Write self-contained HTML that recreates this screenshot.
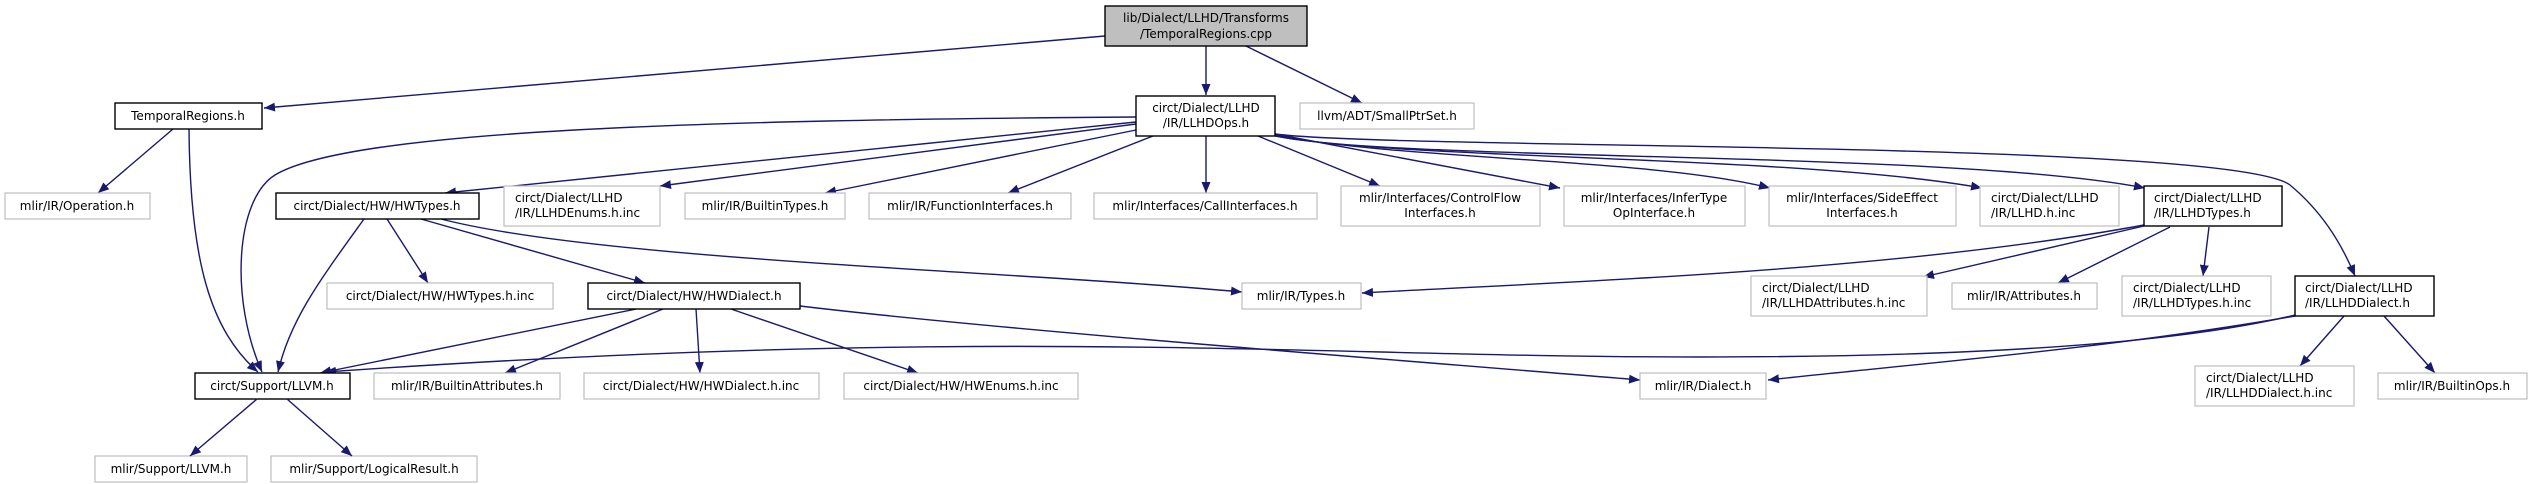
<!DOCTYPE html>
<html><head><meta charset="utf-8"><style>
html,body{margin:0;padding:0;background:#fff;}
svg{display:block;}
text{font-family:"DejaVu Sans","Liberation Sans",sans-serif;font-size:12px;fill:#000;}
.e{fill:none;stroke:#191970;stroke-width:1.4;marker-end:url(#a);}
.g{fill:#fff;stroke:#bfbfbf;stroke-width:1.2;}
.b{fill:#fff;stroke:#000;stroke-width:1.4;}
</style></head><body>
<svg width="2532" height="484" viewBox="0 0 2532 484" xmlns="http://www.w3.org/2000/svg">
<defs><marker id="a" markerUnits="userSpaceOnUse" markerWidth="12" markerHeight="10" refX="11" refY="4.5" orient="auto"><path d="M0,0 L11,4.5 L0,9 z" fill="#191970"/></marker></defs>

<!-- edges -->
<path class="e" d="M1105,36 L264,108"/>
<path class="e" d="M1206,46 L1206,95"/>
<path class="e" d="M1246,46 L1362,103"/>
<path class="e" d="M173,129 L98,193"/>
<path class="e" d="M189,129 C190,260 210,330 258,372"/>
<path class="e" d="M1136,117 C700,120 350,130 275,175 C235,200 230,300 262,372"/>
<path class="e" d="M1136,122 L445,193"/>
<path class="e" d="M1136,124 L660,186"/>
<path class="e" d="M1136,130 L825,193"/>
<path class="e" d="M1153,136 L1008,193"/>
<path class="e" d="M1206,136 L1206,193"/>
<path class="e" d="M1258,136 L1380,186"/>
<path class="e" d="M1275,134 L1560,188"/>
<path class="e" d="M1275,135 C1400,160 1650,158 1770,188"/>
<path class="e" d="M1275,136 C1400,160 1800,155 1982,188"/>
<path class="e" d="M1275,136 C1400,162 1950,150 2145,188"/>
<path class="e" d="M1275,134 C1400,150 2230,140 2290,185 C2320,210 2340,240 2355,276"/>
<path class="e" d="M364,219 C320,280 290,320 278,372"/>
<path class="e" d="M387,219 L428,283"/>
<path class="e" d="M421,219 L645,283"/>
<path class="e" d="M441,219 C600,260 1000,270 1242,292"/>
<path class="e" d="M636,309 L320,373"/>
<path class="e" d="M663,309 L505,373"/>
<path class="e" d="M696,309 L700,373"/>
<path class="e" d="M731,309 L918,373"/>
<path class="e" d="M800,306 C1000,330 1400,360 1640,380"/>
<path class="e" d="M2144,225 C1900,270 1600,280 1362,293"/>
<path class="e" d="M2144,226 L1923,277"/>
<path class="e" d="M2170,227 L2058,283"/>
<path class="e" d="M2209,227 L2203,276"/>
<path class="e" d="M2295,315 C2150,350 1900,357 1700,357 C1300,357 1000,325 325,372"/>
<path class="e" d="M2295,316 C2100,350 1900,365 1768,380"/>
<path class="e" d="M2344,316 L2300,366"/>
<path class="e" d="M2384,316 L2435,373"/>

<!-- nodes -->
<rect x="1105" y="6" width="202" height="40" fill="#bfbfbf" stroke="#000" stroke-width="1.4"/>
<text x="1206" y="22" text-anchor="middle">lib/Dialect/LLHD/Transforms</text>
<text x="1206" y="38" text-anchor="middle">/TemporalRegions.cpp</text>

<rect class="b" x="115" y="103" width="147" height="26"/>
<text x="188" y="120" text-anchor="middle">TemporalRegions.h</text>

<rect class="b" x="1136" y="96" width="139" height="40"/>
<text x="1206" y="112" text-anchor="middle">circt/Dialect/LLHD</text>
<text x="1206" y="127" text-anchor="middle">/IR/LLHDOps.h</text>

<rect class="g" x="1300" y="103" width="174" height="26"/>
<text x="1387" y="120" text-anchor="middle">llvm/ADT/SmallPtrSet.h</text>

<rect class="g" x="5" y="193" width="145" height="26"/>
<text x="77" y="210" text-anchor="middle">mlir/IR/Operation.h</text>

<rect class="b" x="276" y="193" width="203" height="26"/>
<text x="377" y="210" text-anchor="middle">circt/Dialect/HW/HWTypes.h</text>

<rect class="g" x="504" y="186" width="156" height="40"/>
<text x="515" y="202">circt/Dialect/LLHD</text>
<text x="515" y="217">/IR/LLHDEnums.h.inc</text>

<rect class="g" x="685" y="193" width="160" height="26"/>
<text x="765" y="210" text-anchor="middle">mlir/IR/BuiltinTypes.h</text>

<rect class="g" x="869" y="193" width="202" height="26"/>
<text x="970" y="210" text-anchor="middle">mlir/IR/FunctionInterfaces.h</text>

<rect class="g" x="1094" y="193" width="223" height="26"/>
<text x="1205" y="210" text-anchor="middle">mlir/Interfaces/CallInterfaces.h</text>

<rect class="g" x="1341" y="186" width="199" height="40"/>
<text x="1440" y="202" text-anchor="middle">mlir/Interfaces/ControlFlow</text>
<text x="1440" y="217" text-anchor="middle">Interfaces.h</text>

<rect class="g" x="1564" y="186" width="181" height="40"/>
<text x="1654" y="202" text-anchor="middle">mlir/Interfaces/InferType</text>
<text x="1654" y="217" text-anchor="middle">OpInterface.h</text>

<rect class="g" x="1769" y="186" width="187" height="40"/>
<text x="1862" y="202" text-anchor="middle">mlir/Interfaces/SideEffect</text>
<text x="1862" y="217" text-anchor="middle">Interfaces.h</text>

<rect class="g" x="1980" y="186" width="139" height="40"/>
<text x="1991" y="202">circt/Dialect/LLHD</text>
<text x="1991" y="217">/IR/LLHD.h.inc</text>

<rect class="b" x="2144" y="186" width="138" height="40"/>
<text x="2154" y="202">circt/Dialect/LLHD</text>
<text x="2154" y="217">/IR/LLHDTypes.h</text>

<rect class="g" x="327" y="283" width="226" height="26"/>
<text x="440" y="300" text-anchor="middle">circt/Dialect/HW/HWTypes.h.inc</text>

<rect class="b" x="588" y="283" width="212" height="26"/>
<text x="694" y="300" text-anchor="middle">circt/Dialect/HW/HWDialect.h</text>

<rect class="g" x="1242" y="283" width="119" height="26"/>
<text x="1301" y="300" text-anchor="middle">mlir/IR/Types.h</text>

<rect class="g" x="1751" y="276" width="176" height="40"/>
<text x="1762" y="292">circt/Dialect/LLHD</text>
<text x="1762" y="307">/IR/LLHDAttributes.h.inc</text>

<rect class="g" x="1952" y="283" width="145" height="26"/>
<text x="2024" y="300" text-anchor="middle">mlir/IR/Attributes.h</text>

<rect class="g" x="2122" y="276" width="149" height="40"/>
<text x="2133" y="292">circt/Dialect/LLHD</text>
<text x="2133" y="307">/IR/LLHDTypes.h.inc</text>

<rect class="b" x="2295" y="276" width="139" height="40"/>
<text x="2305" y="292">circt/Dialect/LLHD</text>
<text x="2305" y="307">/IR/LLHDDialect.h</text>

<rect class="b" x="195" y="373" width="155" height="26"/>
<text x="272" y="390" text-anchor="middle">circt/Support/LLVM.h</text>

<rect class="g" x="374" y="373" width="186" height="26"/>
<text x="467" y="390" text-anchor="middle">mlir/IR/BuiltinAttributes.h</text>

<rect class="g" x="584" y="373" width="235" height="26"/>
<text x="701" y="390" text-anchor="middle">circt/Dialect/HW/HWDialect.h.inc</text>

<rect class="g" x="844" y="373" width="234" height="26"/>
<text x="961" y="390" text-anchor="middle">circt/Dialect/HW/HWEnums.h.inc</text>

<rect class="g" x="1640" y="373" width="126" height="26"/>
<text x="1703" y="390" text-anchor="middle">mlir/IR/Dialect.h</text>

<rect class="g" x="2195" y="366" width="159" height="40"/>
<text x="2206" y="382">circt/Dialect/LLHD</text>
<text x="2206" y="397">/IR/LLHDDialect.h.inc</text>

<rect class="g" x="2378" y="373" width="149" height="26"/>
<text x="2452" y="390" text-anchor="middle">mlir/IR/BuiltinOps.h</text>

<rect class="g" x="95" y="456" width="152" height="26"/>
<text x="171" y="473" text-anchor="middle">mlir/Support/LLVM.h</text>

<rect class="g" x="271" y="456" width="206" height="26"/>
<text x="374" y="473" text-anchor="middle">mlir/Support/LogicalResult.h</text>

<path class="e" d="M257,399 L190,456"/>
<path class="e" d="M287,399 L352,456"/>
</svg>
</body></html>
